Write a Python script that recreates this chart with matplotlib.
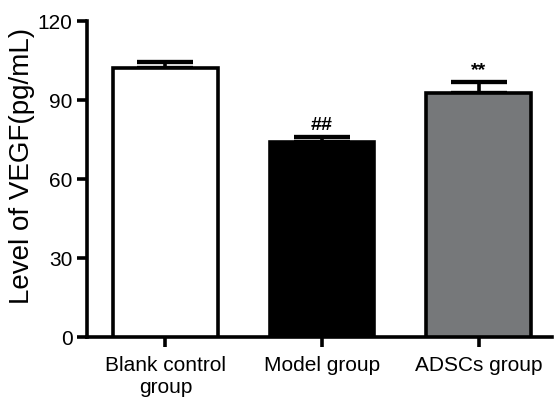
import matplotlib
matplotlib.use("Agg")
import matplotlib.pyplot as plt

categories = ["Blank control\ngroup", "Model group", "ADSCs group"]
values = [102.3, 73.9, 92.5]
errors = [2.0, 2.2, 4.5]
colors = ["#ffffff", "#000000", "#76787a"]
marks = ["", "##", "**"]
yticks = [0, 30, 60, 90, 120]

plt.rcParams['font.family'] = ['Liberation Sans', 'DejaVu Sans']

fig = plt.figure(figsize=(5.55, 4.01), dpi=100)
ax = fig.add_axes([0.157, 0.1596, 0.838, 0.788])

x = list(range(len(categories)))
lw = 2.6
ax.bar(x, values, width=0.67, color=colors, edgecolor="black", linewidth=lw, zorder=3)
ax.errorbar(x, values, yerr=[[0]*len(errors), errors], fmt="none", ecolor="black",
            elinewidth=lw, capsize=20, capthick=lw * 1.2, zorder=2)
for xi, v, e, m in zip(x, values, errors, marks):
    if m:
        ax.text(xi, v + e + 1.0, m, ha="center", va="bottom", fontsize=14, fontweight="bold")

ax.set_xlim(-0.5, 2.47)
ax.set_ylim(0, 120)
ax.set_yticks(yticks)
ax.set_xticks(x)
ax.set_xticklabels(categories, fontsize=15, linespacing=1.15)
ax.tick_params(axis="y", labelsize=15, width=lw, length=7, direction="out")
ax.tick_params(axis="x", width=lw, length=7, direction="out", pad=7)
ax.set_ylabel("Level of VEGF(pg/mL)", fontsize=20, labelpad=0)
ax.yaxis.set_label_coords(-0.112, 0.54)
for s in ["top", "right"]:
    ax.spines[s].set_visible(False)
for s in ["left", "bottom"]:
    ax.spines[s].set_linewidth(lw)

fig.savefig("out.png", dpi=100)
